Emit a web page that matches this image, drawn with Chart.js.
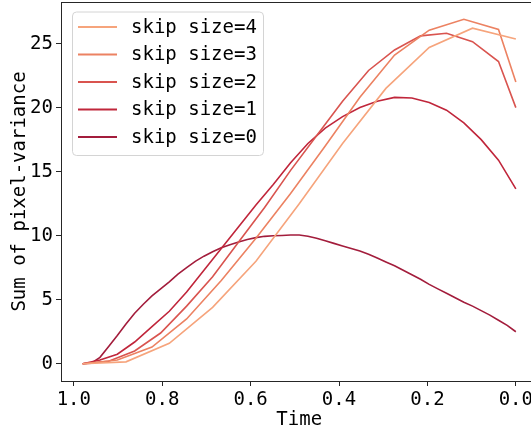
<!DOCTYPE html>
<html>
<head>
<meta charset="utf-8">
<script src="https://cdn.jsdelivr.net/npm/chart.js@4.4.1/dist/chart.umd.min.js"></script>
<style>
  html, body { margin: 0; padding: 0; background: #fff; overflow: hidden; }
  #wrap { width: 560px; height: 427px; }
</style>
</head>
<body>
<div id="wrap"><canvas id="chart" width="560" height="427"></canvas></div>
<script>
// time points per skip size (x axis runs from 1.0 down to 0.0)
const timeSkip0 = [0.98, 0.9604, 0.9408, 0.9212, 0.9016, 0.882, 0.8624, 0.8428, 0.8232, 0.8036,
  0.784, 0.7644, 0.7448, 0.7252, 0.7056, 0.686, 0.6664, 0.6468, 0.6272, 0.6076,
  0.588, 0.5684, 0.5488, 0.5292, 0.5096, 0.49, 0.4704, 0.4508, 0.4312, 0.4116,
  0.392, 0.3724, 0.3528, 0.3332, 0.3136, 0.294, 0.2744, 0.2548, 0.2352, 0.2156,
  0.196, 0.1764, 0.1568, 0.1372, 0.1176, 0.098, 0.0784, 0.0588, 0.0392, 0.0196, 0];
const timeSkip1 = [0.98, 0.9408, 0.9016, 0.8624, 0.8232, 0.784, 0.7448, 0.7056, 0.6664, 0.6272,
  0.588, 0.5488, 0.5096, 0.4704, 0.4312, 0.392, 0.3528, 0.3136, 0.2744, 0.2352,
  0.196, 0.1568, 0.1176, 0.0784, 0.0392, 0];
const timeSkip2 = [0.98, 0.9212, 0.8624, 0.8036, 0.7448, 0.686, 0.6272, 0.5684, 0.5096, 0.4508,
  0.392, 0.3332, 0.2744, 0.2156, 0.1568, 0.098, 0.0392, 0];
const timeSkip3 = [0.98, 0.9016, 0.8232, 0.7448, 0.6664, 0.588, 0.5096, 0.4312, 0.3528, 0.2744,
  0.196, 0.1176, 0.0392, 0];
const timeSkip4 = [0.98, 0.882, 0.784, 0.686, 0.588, 0.49, 0.392, 0.294, 0.196, 0.098, 0];

// sum of pixel-variance
const varSkip0 = [0, 0.05, 0.5, 1.35, 2.2, 3.1, 3.95, 4.65, 5.3, 5.85,
  6.4, 7.0, 7.5, 8.0, 8.4, 8.75, 9.05, 9.3, 9.5, 9.7,
  9.85, 9.95, 10.0, 10.02, 10.05, 10.05, 9.95, 9.8, 9.6, 9.4,
  9.2, 9.0, 8.8, 8.55, 8.25, 7.95, 7.65, 7.3, 6.95, 6.6,
  6.2, 5.85, 5.5, 5.15, 4.8, 4.5, 4.15, 3.8, 3.4, 3.0, 2.5];
const varSkip1 = [0, 0.3, 0.75, 1.7, 2.9, 4.1, 5.6, 7.3, 9.0, 10.7,
  12.4, 14.0, 15.7, 17.2, 18.4, 19.3, 20.0, 20.5, 20.8, 20.75,
  20.4, 19.8, 18.8, 17.5, 15.9, 13.65];
const varSkip2 = [0, 0.2, 1.0, 2.4, 4.5, 6.8, 9.5, 12.2, 15.1, 17.8,
  20.5, 22.9, 24.5, 25.6, 25.8, 25.15, 23.6, 20.0];
const varSkip3 = [0, 0.3, 1.3, 3.5, 6.5, 9.8, 13.3, 17.0, 20.8, 24.1,
  26.05, 26.9, 26.1, 22.0];
const varSkip4 = [0, 0.15, 1.6, 4.4, 8.0, 12.5, 17.2, 21.5, 24.7, 26.2, 25.35];

const seriesLabels = ["skip size=4", "skip size=3", "skip size=2", "skip size=1", "skip size=0"];
const seriesColors = ["#f6a47c", "#ec8262", "#d9544f", "#c0263b", "#a31d3c"];

const xTicks = [1.0, 0.8, 0.6, 0.4, 0.2, 0.0];
const yTicks = [0, 5, 10, 15, 20, 25];

const FONT = "'DejaVu Sans Mono', monospace";
const AXIS_COLOR = "#262626";

function toPoints(xs, ys) {
  return xs.map((x, i) => ({ x: x, y: ys[i] }));
}

const allSeries = [
  toPoints(timeSkip4, varSkip4),
  toPoints(timeSkip3, varSkip3),
  toPoints(timeSkip2, varSkip2),
  toPoints(timeSkip1, varSkip1),
  toPoints(timeSkip0, varSkip0),
];

// top spine (right one is off screen, like the original crop)
const frameTop = {
  id: "frameTop",
  afterDraw(chart) {
    const { ctx, chartArea } = chart;
    ctx.save();
    ctx.strokeStyle = AXIS_COLOR;
    ctx.lineWidth = 1;
    ctx.beginPath();
    ctx.moveTo(chartArea.left, chartArea.top + 0.5);
    ctx.lineTo(chartArea.right, chartArea.top + 0.5);
    ctx.stroke();
    ctx.restore();
  },
};

// matplotlib-like legend box in the upper left corner
const insideLegend = {
  id: "insideLegend",
  afterDraw(chart) {
    const { ctx, chartArea } = chart;
    const left = chartArea.left + 11;
    const top = chartArea.top + 9.5;
    const w = 191, h = 143.5, rowH = 27.5;
    ctx.save();
    ctx.fillStyle = "rgba(255,255,255,0.8)";
    ctx.strokeStyle = "#d4d4d4";
    ctx.lineWidth = 1;
    ctx.beginPath();
    ctx.roundRect(left + 0.5, top + 0.5, w, h, 4);
    ctx.fill();
    ctx.stroke();
    ctx.font = "19px " + FONT;
    ctx.textBaseline = "middle";
    ctx.fillStyle = "#000";
    chart.data.datasets.forEach((ds, i) => {
      const cy = top + 15.5 + i * rowH;
      ctx.strokeStyle = ds.borderColor;
      ctx.lineWidth = 1.8;
      ctx.beginPath();
      ctx.moveTo(left + 6, cy);
      ctx.lineTo(left + 45, cy);
      ctx.stroke();
      ctx.fillText(ds.label, left + 59, cy + 1);
    });
    ctx.restore();
  },
};

new Chart(document.getElementById("chart"), {
  type: "line",
  data: {
    datasets: seriesLabels.map((label, i) => ({
      label: label,
      data: allSeries[i],
      borderColor: seriesColors[i],
      backgroundColor: seriesColors[i],
      borderWidth: 1.6,
      pointRadius: 0,
      tension: 0,
      fill: false,
    })),
  },
  options: {
    responsive: false,
    animation: false,
    events: [],
    layout: { padding: { top: 2, right: 22.5, left: 0, bottom: 0 } },
    plugins: {
      legend: { display: false },
      tooltip: { enabled: false },
    },
    scales: {
      x: {
        type: "linear",
        reverse: true,
        min: -0.049,
        max: 1.029,
        afterFit: (s) => { s.height = 46; s.paddingLeft = 0; s.paddingRight = 0; },
        afterBuildTicks: (s) => { s.ticks = xTicks.map((v) => ({ value: v })); },
        grid: { drawOnChartArea: false, drawTicks: true, tickLength: 5, tickColor: AXIS_COLOR, tickWidth: 1 },
        border: { display: true, color: AXIS_COLOR, width: 1 },
        ticks: {
          color: "#000",
          font: { family: FONT, size: 19 },
          padding: 3,
          maxRotation: 0,
          autoSkip: false,
          callback: (v) => Number(v).toFixed(1),
        },
        title: {
          display: true,
          text: "Time",
          color: "#000",
          font: { family: FONT, size: 19, lineHeight: 0.7 },
          padding: { top: 0, bottom: 0 },
        },
      },
      y: {
        type: "linear",
        min: -1.345,
        max: 28.245,
        afterFit: (s) => { s.width = 61; s.paddingTop = 0; s.paddingBottom = 0; },
        afterBuildTicks: (s) => { s.ticks = yTicks.map((v) => ({ value: v })); },
        grid: { drawOnChartArea: false, drawTicks: true, tickLength: 5, tickColor: AXIS_COLOR, tickWidth: 1 },
        border: { display: true, color: AXIS_COLOR, width: 1 },
        ticks: {
          color: "#000",
          font: { family: FONT, size: 19 },
          padding: 3,
          autoSkip: false,
          callback: (v) => String(v),
        },
        title: {
          display: true,
          text: "Sum of pixel-variance",
          color: "#000",
          font: { family: FONT, size: 19, lineHeight: 1 },
          padding: { top: 11, bottom: 0 },
        },
      },
    },
  },
  plugins: [frameTop, insideLegend],
});
</script>
</body>
</html>
